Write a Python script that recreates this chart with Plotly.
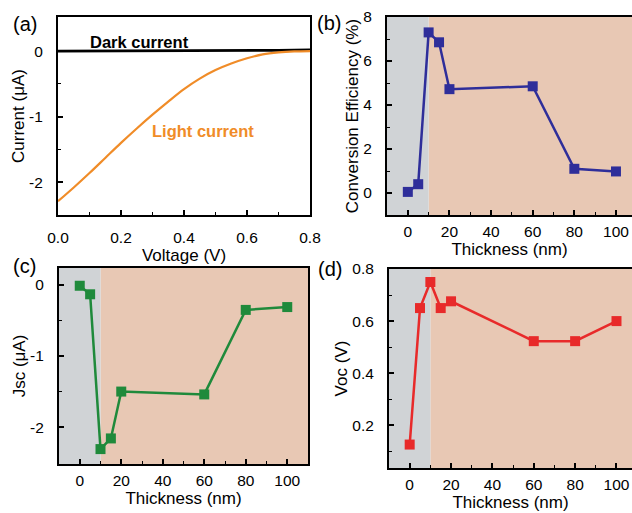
import plotly.graph_objects as go

# ---- data ----
voltage = [0.0, 0.05, 0.1, 0.15, 0.2, 0.25, 0.3, 0.35, 0.4, 0.45, 0.5, 0.55, 0.6, 0.65, 0.7, 0.75, 0.8]
light_current = [-2.29, -2.08, -1.86, -1.63, -1.40, -1.18, -0.97, -0.77, -0.58, -0.42, -0.29, -0.19, -0.11, -0.05, -0.02, -0.005, 0.0]
dark_current = [0.0, 0.0, 0.0, 0.0, 0.0, 0.0, 0.0, 0.0, 0.0, 0.0, 0.0, 0.002, 0.004, 0.007, 0.011, 0.015, 0.02]

thickness = [0, 5, 10, 15, 20, 60, 80, 100]
efficiency = [0.05, 0.4, 7.3, 6.85, 4.72, 4.85, 1.1, 0.98]
jsc = [-0.01, -0.13, -2.31, -2.16, -1.50, -1.54, -0.35, -0.31]
voc = [0.126, 0.65, 0.75, 0.65, 0.676, 0.523, 0.523, 0.60]

current_ticks = [-2, -1, 0]
current_ticktext = ["-2", "-1", "0"]

gray_region = [-10, 10]
peach_region = [10, 110]

GRAY = "#d0d3d6"
PEACH = "#e8c8b4"
FONT = "Liberation Sans, Arial, sans-serif"

fig = go.Figure()

# panel a
fig.add_trace(go.Scatter(x=voltage, y=dark_current, mode="lines",
                         line=dict(color="black", width=2.8), xaxis="x", yaxis="y", showlegend=False))
fig.add_trace(go.Scatter(x=voltage, y=light_current, mode="lines", line_shape="spline",
                         line=dict(color="#f08c28", width=2.2), xaxis="x", yaxis="y", showlegend=False))

marker = dict(symbol="square", size=10)
fig.add_trace(go.Scatter(x=thickness, y=efficiency, mode="lines+markers",
                         line=dict(color="#2e2e9a", width=2.5), marker=dict(color="#2e2e9a", **marker),
                         xaxis="x2", yaxis="y2", showlegend=False))
fig.add_trace(go.Scatter(x=thickness, y=jsc, mode="lines+markers",
                         line=dict(color="#1f8a3b", width=2.5), marker=dict(color="#1f8a3b", **marker),
                         xaxis="x3", yaxis="y3", showlegend=False))
fig.add_trace(go.Scatter(x=thickness, y=voc, mode="lines+markers",
                         line=dict(color="#e82a2a", width=2.5), marker=dict(color="#e82a2a", **marker),
                         xaxis="x4", yaxis="y4", showlegend=False))

# background shading
for xa, ya in [("x2", "y2"), ("x3", "y3"), ("x4", "y4")]:
    fig.add_shape(type="rect", xref=xa, yref=ya + " domain", x0=peach_region[0], x1=peach_region[1] + 10,
                  y0=0, y1=1, fillcolor=PEACH, line_width=0, layer="below")
    fig.add_shape(type="rect", xref=xa, yref=ya + " domain", x0=gray_region[0] - 5, x1=gray_region[1],
                  y0=0, y1=1, fillcolor=GRAY, line_width=0, layer="below")

W, H = 632, 513
def dx(a, b):
    return [a / W, b / W]
def dy(top, bot):
    return [1 - bot / H, 1 - top / H]

tickfont = dict(family=FONT, size=15.5, color="black")
titlefont = dict(family=FONT, size=17, color="black")
base = dict(showline=True, linecolor="black", linewidth=2, mirror=True, ticks="inside",
            tickcolor="black", tickwidth=1.5, ticklen=5, showgrid=False, zeroline=False,
            tickfont=tickfont, automargin=False)
xcommon = dict(base, ticklabelstandoff=1)
ycommon = dict(base, ticklabelstandoff=10)
def minor_vals(vals):
    return dict(tickvals=vals, ticks="inside", ticklen=3, tickcolor="black", tickwidth=1.2)
def minor_dt(dt):
    return dict(dtick=dt, ticks="inside", ticklen=3, tickcolor="black", tickwidth=1.2)

fig.update_layout(
    width=W, height=H, margin=dict(l=0, r=0, t=0, b=0, autoexpand=False),
    paper_bgcolor="white", plot_bgcolor="white",
    font=dict(family=FONT, color="black"),
    xaxis=dict(domain=dx(58, 310), range=[0, 0.8], dtick=0.2, tickformat=".1f",
               title=dict(text="Voltage (V)", font=titlefont, standoff=0), anchor="y",
               minor=minor_dt(0.1), **dict(xcommon, ticklabelstandoff=7)),
    yaxis=dict(domain=dy(17, 215), range=[-2.5, 0.52], tickvals=current_ticks, ticktext=current_ticktext,
               title=dict(text="Current (μA)", font=titlefont, standoff=0), anchor="x",
               minor=minor_vals([-1.5, -0.5]), **ycommon),
    xaxis2=dict(domain=dx(387, 632), range=[-10, 107.7], dtick=20,
                title=dict(text="Thickness (nm)", font=titlefont, standoff=0), anchor="y2",
                minor=minor_dt(10), **xcommon),
    yaxis2=dict(domain=dy(17, 215), range=[-1, 8], dtick=2,
                title=dict(text="Conversion Efficiency (%)", font=titlefont, standoff=0), anchor="x2",
                minor=minor_dt(1), **ycommon),
    xaxis3=dict(domain=dx(59, 308), range=[-10, 110], dtick=20,
                title=dict(text="Thickness (nm)", font=titlefont, standoff=0), anchor="y3",
                minor=minor_dt(10), **xcommon),
    yaxis3=dict(domain=dy(268, 464), range=[-2.52, 0.24], tickvals=current_ticks, ticktext=current_ticktext,
                title=dict(text="Jsc (μA)", font=titlefont, standoff=0), anchor="x3",
                minor=minor_vals([-1.5, -0.5]), **ycommon),
    xaxis4=dict(domain=dx(389, 632), range=[-10, 107.5], dtick=20,
                title=dict(text="Thickness (nm)", font=titlefont, standoff=2), anchor="y4",
                minor=minor_dt(10), **xcommon),
    yaxis4=dict(domain=dy(269, 468), range=[0.036, 0.8], tickvals=[0.2, 0.4, 0.6, 0.8],
                title=dict(text="Voc (V)", font=titlefont, standoff=0), anchor="x4",
                minor=minor_vals([0.1, 0.3, 0.5, 0.7]), **ycommon),
)

# annotations
fig.add_annotation(x=0.26, y=0.14, xref="x", yref="y", text="<b>Dark current</b>", showarrow=False,
                   font=dict(family=FONT, size=16.5, color="black"))
fig.add_annotation(x=0.46, y=-1.22, xref="x", yref="y", text="<b>Light current</b>", showarrow=False,
                   font=dict(family=FONT, size=16.5, color="#f08c28"))

for lbl, px, py in [("(a)", 25, 24), ("(b)", 329, 23), ("(c)", 24, 266), ("(d)", 330, 269)]:
    fig.add_annotation(x=px / W, y=1 - py / H, xref="paper", yref="paper", text=lbl, showarrow=False,
                       xanchor="center", yanchor="middle",
                       font=dict(family=FONT, size=20, color="black"))

fig.write_html("out.html")
